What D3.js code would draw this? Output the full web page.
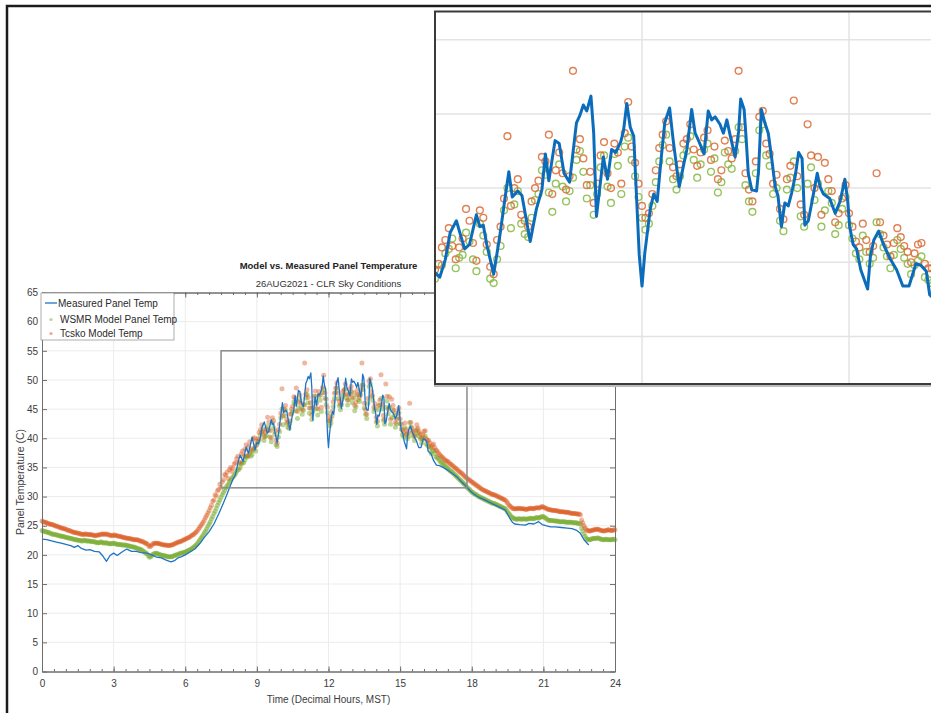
<!DOCTYPE html>
<html>
<head>
<meta charset="utf-8">
<script src="https://cdn.jsdelivr.net/npm/d3@7"></script>
<style>
  html, body { margin: 0; padding: 0; background: #fff; }
  svg { display: block; }
  text { font-family: "Liberation Sans", Arial, Helvetica, sans-serif; }
</style>
</head>
<body>
<svg id="chart" width="931" height="713"></svg>
<script>
// ---- data -------------------------------------------------------------
// Model outputs are sampled every 0.05 h (3 min), starting at 0 h; one row per hour.
const modelStep = 0.05;

const wsmrTemps = [
  24.2, 24.1, 24.0, 24.0, 23.9, 23.9, 23.8, 23.7, 23.6, 23.6, 23.5, 23.5, 23.4, 23.4, 23.3, 23.3, 23.2, 23.2, 23.1, 23.1,
  23.0, 23.0, 22.9, 22.9, 22.8, 22.8, 22.7, 22.7, 22.6, 22.6, 22.5, 22.5, 22.5, 22.4, 22.4, 22.5, 22.5, 22.4, 22.4, 22.4,
  22.4, 22.3, 22.3, 22.3, 22.2, 22.2, 22.1, 22.1, 22.1, 22.2, 22.2, 22.1, 22.0, 22.1, 22.1, 22.0, 21.9, 21.9, 21.9, 22.0,
  22.0, 21.9, 21.9, 21.8, 21.8, 21.8, 21.8, 21.7, 21.7, 21.7, 21.7, 21.6, 21.6, 21.5, 21.5, 21.4, 21.4, 21.3, 21.3, 21.2,
  21.1, 21.0, 21.0, 20.9, 20.8, 20.6, 20.5, 20.3, 20.2, 19.9, 19.6, 19.7, 19.9, 20.1, 20.2, 20.3, 20.3, 20.2, 20.1, 20.0,
  20.0, 19.9, 19.9, 19.8, 19.8, 19.7, 19.7, 19.7, 19.7, 19.7, 19.8, 19.9, 20.0, 20.0, 20.1, 20.2, 20.3, 20.3, 20.4, 20.4,
  20.5, 20.6, 20.7, 20.8, 20.9, 21.0, 21.2, 21.3, 21.5, 21.7, 21.9, 22.2, 22.5, 22.8, 23.1, 23.4, 23.8, 24.1, 24.5, 24.9,
  25.3, 25.7, 26.2, 26.6, 27.1, 27.5, 28.0, 28.5, 29.0, 29.4, 29.9, 30.3, 30.7, 31.1, 31.5, 31.8, 32.1, 32.5, 32.8, 33.1,
  33.4, 33.6, 33.9, 34.3, 34.6, 34.7, 35.0, 35.6, 35.9, 35.8, 36.3, 36.9, 36.8, 37.0, 37.5, 36.9, 37.2, 38.0, 38.3, 37.8,
  38.9, 39.4, 39.8, 40.6, 40.9, 41.6, 39.6, 40.3, 40.5, 42.0, 41.4, 40.2, 39.4, 42.6, 41.8, 40.7, 38.9, 38.6, 40.2, 41.1,
  43.5, 45.0, 42.3, 43.9, 44.8, 42.6, 41.9, 41.7, 43.0, 44.2, 44.6, 46.2, 45.9, 44.7, 43.4, 45.3, 46.6, 45.1, 44.1, 44.8,
  45.7, 46.9, 47.5, 46.1, 44.3, 45.2, 43.2, 44.6, 46.4, 47.2, 45.1, 44.0, 47.3, 46.5, 44.6, 47.8, 48.4, 46.9, 45.8, 44.4,
  43.0, 42.2, 42.6, 43.8, 45.4, 46.8, 47.9, 48.6, 46.8, 45.6, 44.9, 45.8, 47.2, 47.5, 48.5, 46.9, 45.7, 46.6, 47.6, 48.0,
  46.1, 47.0, 44.7, 45.4, 47.4, 46.6, 46.3, 47.5, 49.1, 48.3, 45.2, 44.1, 43.4, 46.0, 48.9, 49.3, 47.2, 46.5, 44.6, 45.0,
  42.8, 42.1, 44.9, 45.7, 46.8, 45.0, 43.1, 42.4, 45.3, 46.4, 44.2, 45.3, 42.4, 43.5, 44.8, 44.0, 41.9, 42.5, 43.6, 44.4,
  42.5, 41.6, 40.6, 40.2, 41.8, 40.7, 39.9, 40.3, 42.7, 41.9, 41.0, 40.4, 39.6, 40.5, 41.5, 40.9, 40.3, 39.9, 39.2, 39.8,
  40.1, 40.4, 39.0, 38.8, 38.6, 38.3, 37.4, 37.8, 37.9, 37.3, 36.8, 36.7, 36.5, 36.2, 35.9, 35.8, 35.5, 35.4, 35.2, 35.0,
  34.8, 34.6, 34.4, 34.3, 34.1, 33.9, 33.7, 33.5, 33.3, 33.1, 32.9, 32.7, 32.5, 32.3, 32.1, 31.9, 31.6, 31.4, 31.2, 31.0,
  30.8, 30.7, 30.5, 30.4, 30.3, 30.1, 30.0, 29.9, 29.8, 29.7, 29.6, 29.5, 29.4, 29.3, 29.2, 29.1, 29.0, 28.9, 28.8, 28.8,
  28.7, 28.6, 28.5, 28.4, 28.3, 28.2, 28.1, 28.0, 27.9, 27.7, 27.4, 27.1, 26.9, 26.6, 26.4, 26.3, 26.2, 26.1, 26.1, 26.2,
  26.2, 26.1, 26.1, 26.2, 26.2, 26.1, 26.1, 26.2, 26.2, 26.3, 26.3, 26.2, 26.2, 26.3, 26.4, 26.4, 26.3, 26.4, 26.5, 26.6,
  26.6, 26.4, 26.3, 26.1, 26.0, 25.9, 25.9, 25.9, 25.9, 25.8, 25.8, 25.8, 25.8, 25.7, 25.7, 25.7, 25.7, 25.7, 25.7, 25.6,
  25.6, 25.6, 25.6, 25.6, 25.6, 25.5, 25.5, 25.5, 25.5, 25.4, 25.4, 25.3, 24.6, 24.1, 23.6, 23.2, 22.8, 22.7, 22.6, 22.6,
  22.7, 22.8, 22.8, 22.8, 22.8, 22.9, 22.9, 22.8, 22.7, 22.7, 22.6, 22.6, 22.7, 22.7, 22.6, 22.6, 22.6, 22.6, 22.7, 22.7,
  22.6
];

const tcskoTemps = [
  25.8, 25.7, 25.6, 25.6, 25.5, 25.4, 25.3, 25.3, 25.2, 25.2, 25.1, 25.0, 24.9, 24.9, 24.8, 24.7, 24.6, 24.6, 24.5, 24.5,
  24.4, 24.3, 24.2, 24.2, 24.1, 24.0, 23.9, 23.9, 23.8, 23.8, 23.7, 23.7, 23.6, 23.6, 23.5, 23.5, 23.6, 23.6, 23.5, 23.5,
  23.5, 23.5, 23.4, 23.4, 23.3, 23.3, 23.4, 23.4, 23.4, 23.5, 23.6, 23.6, 23.5, 23.6, 23.6, 23.5, 23.4, 23.4, 23.3, 23.3,
  23.4, 23.4, 23.3, 23.3, 23.2, 23.2, 23.1, 23.1, 23.0, 23.0, 22.9, 22.9, 22.8, 22.8, 22.8, 22.7, 22.7, 22.6, 22.6, 22.6,
  22.6, 22.5, 22.4, 22.4, 22.3, 22.2, 22.1, 22.0, 21.9, 21.7, 21.4, 21.5, 21.7, 21.9, 22.0, 22.0, 22.0, 22.0, 21.9, 21.9,
  21.8, 21.8, 21.7, 21.7, 21.7, 21.6, 21.6, 21.6, 21.7, 21.7, 21.8, 21.9, 22.0, 22.1, 22.2, 22.2, 22.3, 22.4, 22.5, 22.6,
  22.7, 22.8, 22.9, 23.0, 23.1, 23.3, 23.4, 23.5, 23.7, 23.9, 24.1, 24.4, 24.7, 25.0, 25.3, 25.6, 26.0, 26.4, 26.8, 27.2,
  27.6, 28.1, 28.5, 29.2, 29.4, 30.3, 30.1, 31.0, 31.2, 32.1, 31.6, 32.5, 32.9, 33.8, 33.6, 34.2, 33.1, 34.6, 35.0, 34.3,
  34.9, 35.6, 35.8, 36.5, 36.9, 35.9, 35.7, 37.3, 37.8, 36.9, 38.1, 38.9, 37.0, 38.6, 39.4, 37.8, 38.2, 39.9, 40.1, 38.7,
  39.5, 39.9, 41.0, 41.5, 42.3, 41.1, 40.2, 41.0, 41.6, 43.6, 42.8, 41.3, 40.1, 43.5, 43.0, 41.2, 39.7, 39.2, 41.5, 42.4,
  44.3, 48.5, 43.8, 45.0, 45.6, 43.2, 42.8, 42.4, 44.1, 45.0, 45.5, 47.1, 46.8, 48.6, 44.6, 46.2, 47.4, 46.0, 44.9, 45.8,
  52.9, 47.6, 48.3, 47.0, 45.2, 46.1, 44.0, 45.3, 47.2, 48.1, 46.0, 45.0, 48.0, 47.4, 45.3, 48.7, 50.8, 47.8, 46.7, 45.3,
  43.8, 43.0, 43.3, 44.6, 46.2, 47.7, 48.6, 49.5, 47.7, 46.4, 45.8, 46.6, 48.0, 48.3, 49.3, 47.6, 46.5, 47.4, 48.4, 48.9,
  46.9, 47.8, 45.6, 46.2, 48.2, 47.5, 47.0, 48.3, 52.9, 49.1, 46.0, 44.9, 44.1, 46.8, 49.8, 50.2, 48.0, 47.3, 45.3, 45.9,
  43.6, 42.9, 45.6, 46.5, 50.9, 45.8, 43.9, 43.2, 49.3, 47.2, 45.0, 47.1, 43.2, 46.7, 45.6, 44.8, 42.7, 43.3, 44.3, 45.2,
  43.3, 42.4, 41.4, 41.0, 42.6, 41.5, 40.7, 41.1, 46.0, 42.7, 41.8, 41.2, 40.4, 41.3, 42.3, 41.7, 41.1, 40.7, 40.0, 40.6,
  41.2, 41.3, 39.9, 39.6, 39.6, 39.2, 38.5, 38.8, 39.0, 38.4, 38.0, 37.8, 37.5, 37.2, 37.0, 36.8, 36.6, 36.4, 36.2, 36.1,
  36.0, 35.8, 35.6, 35.5, 35.3, 35.1, 34.9, 34.8, 34.6, 34.4, 34.2, 34.1, 33.9, 33.7, 33.5, 33.3, 33.1, 33.0, 32.8, 32.7,
  32.5, 32.4, 32.2, 32.1, 31.9, 31.8, 31.6, 31.5, 31.3, 31.2, 31.1, 31.0, 30.9, 30.8, 30.7, 30.6, 30.5, 30.4, 30.3, 30.3,
  30.2, 30.1, 30.0, 29.9, 29.8, 29.7, 29.6, 29.5, 29.4, 29.2, 28.9, 28.6, 28.4, 28.2, 28.0, 27.9, 27.9, 27.9, 27.9, 28.0,
  28.0, 27.9, 27.9, 27.9, 27.9, 27.8, 27.8, 27.9, 27.9, 28.0, 28.0, 27.9, 27.9, 28.0, 28.1, 28.1, 28.0, 28.1, 28.2, 28.3,
  28.2, 28.1, 28.0, 27.9, 27.8, 27.8, 27.7, 27.7, 27.6, 27.6, 27.6, 27.6, 27.5, 27.5, 27.4, 27.4, 27.4, 27.4, 27.3, 27.3,
  27.3, 27.3, 27.2, 27.2, 27.1, 27.1, 27.1, 27.1, 27.0, 27.0, 27.0, 26.9, 26.0, 25.5, 25.0, 24.6, 24.3, 24.2, 24.1, 24.1,
  24.2, 24.2, 24.3, 24.3, 24.4, 24.4, 24.4, 24.3, 24.2, 24.2, 24.1, 24.1, 24.2, 24.2, 24.3, 24.3, 24.2, 24.2, 24.2, 24.3,
  24.3
];

// Measured panel temperature (thermocouple log), hour / deg C pairs.
const measuredHours = [
  0.0, 0.2, 0.4, 0.6, 0.8, 1.0, 1.2, 1.35, 1.5, 1.65, 1.85, 2.0, 2.2, 2.4, 2.55, 2.7, 2.85,
  3.0, 3.15, 3.35, 3.55, 3.75, 3.95, 4.15, 4.4, 4.6, 4.8, 5.0, 5.2, 5.4, 5.55, 5.7, 5.85,
  6.0, 6.2, 6.4, 6.6, 6.8, 7.0, 7.2, 7.4, 7.6, 7.75, 7.9, 8.0, 8.1, 8.23, 8.3, 8.42, 8.55,
  8.65, 8.8, 8.92, 9.0, 9.07, 9.15, 9.22, 9.31, 9.36, 9.43, 9.5, 9.6, 9.65, 9.7, 9.75,
  9.85, 9.94, 10.02, 10.07, 10.12, 10.2, 10.26, 10.38, 10.47, 10.55, 10.6, 10.65, 10.74,
  10.8, 10.87, 10.95, 11.05, 11.1, 11.15, 11.2, 11.26, 11.3, 11.34, 11.44, 11.5, 11.56,
  11.62, 11.69, 11.73, 11.78, 11.83, 11.88, 11.92, 11.96, 12.0, 12.04, 12.12, 12.17,
  12.22, 12.28, 12.33, 12.4, 12.45, 12.5, 12.54, 12.6, 12.65, 12.72, 12.77, 12.82, 12.9,
  12.96, 13.01, 13.06, 13.13, 13.18, 13.23, 13.28, 13.35, 13.4, 13.43, 13.48, 13.51,
  13.54, 13.59, 13.66, 13.69, 13.73, 13.78, 13.83, 13.88, 13.93, 13.97, 14.02, 14.07,
  14.12, 14.17, 14.22, 14.27, 14.32, 14.36, 14.41, 14.46, 14.54, 14.58, 14.63, 14.72,
  14.8, 14.87, 14.94, 14.98, 15.01, 15.06, 15.11, 15.17, 15.27, 15.31, 15.36, 15.43,
  15.5, 15.6, 15.69, 15.78, 15.87, 15.97, 16.04, 16.12, 16.17, 16.3, 16.4, 16.52, 16.65,
  16.8, 17.0, 17.2, 17.4, 17.6, 17.8, 18.0, 18.2, 18.4, 18.6, 18.8, 19.0, 19.2, 19.4,
  19.5, 19.6, 19.7, 19.8, 20.0, 20.25, 20.4, 20.6, 20.8, 20.95, 21.1, 21.3, 21.5, 21.75,
  22.0, 22.2, 22.4, 22.55, 22.7, 22.9
];
const measuredTemps = [
  22.7, 22.6, 22.4, 22.2, 22.0, 21.8, 21.6, 21.3, 21.6, 21.1, 20.8, 20.9, 20.6, 20.5, 19.8, 18.9, 19.9,
  20.3, 19.9, 20.5, 21.0, 20.6, 20.6, 20.4, 20.3, 20.0, 19.6, 19.5, 19.1, 18.8, 19.0, 19.5, 19.7,
  20.0, 20.5, 21.0, 21.9, 23.0, 24.0, 25.3, 27.0, 28.9, 30.4, 32.0, 33.0, 33.7, 36.2, 37.1, 36.0, 38.5,
  37.4, 40.2, 38.0, 39.3, 39.0, 40.2, 42.0, 42.8, 42.0, 40.9, 41.2, 43.2, 42.4, 42.5, 41.2,
  39.2, 41.8, 44.5, 46.1, 44.4, 44.8, 44.5, 41.4, 43.6, 44.9, 47.3, 45.5, 48.2,
  48.0, 46.0, 45.4, 49.4, 49.9, 50.6, 50.2, 51.2, 48.7, 43.1, 47.1, 45.6, 47.6,
  47.4, 48.1, 48.8, 50.7, 49.1, 48.5, 44.5, 40.5, 38.4, 40.6, 43.6, 44.6,
  44.1, 47.1, 49.4, 50.4, 48.3, 46.5, 45.1, 46.5, 47.6, 50.3, 48.7, 48.2, 47.3,
  50.2, 49.6, 49.8, 49.3, 48.7, 49.6, 48.5, 47.1, 48.8, 51.0, 50.3, 48.3,
  46.0, 44.9, 44.8, 46.2, 50.3, 49.4, 48.7, 47.0, 45.1, 44.5, 42.4, 44.0,
  43.8, 44.7, 45.8, 47.4, 47.0, 42.5, 42.8, 44.0, 46.0, 45.1, 44.6, 44.3,
  43.3, 44.1, 45.6, 44.2, 42.4, 41.2, 40.9, 39.5, 38.2, 40.4, 41.5, 42.1,
  41.2, 40.2, 39.5, 38.4, 38.4, 39.9, 39.8, 39.4, 37.8, 37.3, 36.2, 35.4, 35.3,
  35.0, 34.5, 33.9, 33.3, 32.4, 31.6, 30.7, 30.1, 29.7, 29.3, 28.9, 28.5, 28.1, 27.7,
  27.0, 26.2, 25.6, 25.3, 25.2, 25.1, 25.4, 25.3, 25.7, 25.2, 25.0, 24.8, 24.8, 24.7,
  24.6, 24.5, 24.2, 23.7, 22.6, 21.7
];

const xTicks = [0, 3, 6, 9, 12, 15, 18, 21, 24];
const xMinorTicks = d3.range(0, 24.01, 0.5);
const yTicks = [0, 5, 10, 15, 20, 25, 30, 35, 40, 45, 50, 55, 60, 65];
const zoomHours = [7.5, 17.8];
const zoomTemps = [31.5, 55];
const insetHourTicks = [9, 12, 15, 18];
const insetTempTicks = [35, 40, 45, 50, 55];

const titleText = "Model vs. Measured Panel Temperature";
const subtitleText = "26AUG2021 - CLR Sky Conditions";
const xLabel = "Time (Decimal Hours, MST)";
const yLabel = "Panel Temperature (C)";
const seriesNames = ["Measured Panel Temp", "WSMR Model Panel Temp", "Tcsko Model Temp"];

// ---- styles ------------------------------------------------------------
const C = {
  measured: "#1f74c4",
  measuredInset: "#0b6cbc",
  wsmr: "#77ac30",
  tcsko: "#d95319",
  grid: "#ececec",
  axis: "#6e6e6e",
  text: "#3c3c3c"
};

const svg = d3.select("#chart");

const wsmr = wsmrTemps.map((t, i) => ({ h: i * modelStep, t }));
const tcsko = tcskoTemps.map((t, i) => ({ h: i * modelStep, t }));
const measured = measuredHours.map((h, i) => ({ h, t: measuredTemps[i] }));

// ---- main axes -------------------------------------------------------------
const P = { left: 42, right: 615, top: 292.5, bottom: 671.5 };
const x = d3.scaleLinear().domain([0, 24]).range([P.left, P.right]);
const y = d3.scaleLinear().domain([0, 65]).range([P.bottom, P.top]);

const main = svg.append("g");

main.append("rect")
  .attr("x", P.left).attr("y", P.top)
  .attr("width", P.right - P.left).attr("height", P.bottom - P.top)
  .attr("fill", "#fff");

// grid
main.append("g").selectAll("line").data(xTicks.slice(1, -1)).join("line")
  .attr("x1", d => x(d)).attr("x2", d => x(d))
  .attr("y1", P.top).attr("y2", P.bottom)
  .attr("stroke", C.grid).attr("stroke-width", 1);
main.append("g").selectAll("line").data(yTicks.slice(1, -1)).join("line")
  .attr("x1", P.left).attr("x2", P.right)
  .attr("y1", d => y(d)).attr("y2", d => y(d))
  .attr("stroke", C.grid).attr("stroke-width", 1);

// model markers
const mainDots = main.append("g");
mainDots.append("g").selectAll("circle").data(wsmr).join("circle")
  .attr("cx", d => x(d.h)).attr("cy", d => y(d.t)).attr("r", 2.5)
  .attr("fill", C.wsmr).attr("fill-opacity", 0.5);
mainDots.append("g").selectAll("circle").data(tcsko).join("circle")
  .attr("cx", d => x(d.h)).attr("cy", d => y(d.t)).attr("r", 2.5)
  .attr("fill", C.tcsko).attr("fill-opacity", 0.42);

// measured line
const lineMain = d3.line().x(d => x(d.h)).y(d => y(d.t));
main.append("path").datum(measured)
  .attr("d", lineMain)
  .attr("fill", "none").attr("stroke", C.measured)
  .attr("stroke-width", 1.3).attr("stroke-linejoin", "round");

// zoom window outline
main.append("rect")
  .attr("x", x(zoomHours[0])).attr("y", y(zoomTemps[1]))
  .attr("width", x(zoomHours[1]) - x(zoomHours[0]))
  .attr("height", y(zoomTemps[0]) - y(zoomTemps[1]))
  .attr("fill", "none").attr("stroke", "#8a8a8a").attr("stroke-width", 1.5);

// axes (box with inward ticks)
function styleAxis(g) {
  g.select(".domain").attr("stroke", C.axis).attr("stroke-width", 1);
  g.selectAll(".tick line").attr("stroke", C.axis).attr("stroke-width", 1);
  g.selectAll(".tick text").attr("fill", C.text).attr("font-size", 10)
    .attr("font-family", "'Liberation Sans', Arial, sans-serif");
}
main.append("g").attr("transform", `translate(0,${P.bottom})`)
  .call(d3.axisBottom(x).tickValues(xMinorTicks).tickSize(-2.5).tickFormat(""))
  .call(styleAxis);
main.append("g").attr("transform", `translate(0,${P.top})`)
  .call(d3.axisTop(x).tickValues(xMinorTicks).tickSize(-2.5).tickFormat(""))
  .call(styleAxis);
main.append("g").attr("transform", `translate(0,${P.bottom})`)
  .call(d3.axisBottom(x).tickValues(xTicks).tickSizeInner(-5).tickSizeOuter(0).tickPadding(8))
  .call(styleAxis);
main.append("g").attr("transform", `translate(0,${P.top})`)
  .call(d3.axisTop(x).tickValues(xTicks).tickSizeInner(-5).tickSizeOuter(0).tickFormat(""))
  .call(styleAxis);
main.append("g").attr("transform", `translate(${P.left},0)`)
  .call(d3.axisLeft(y).tickValues(yTicks).tickSizeInner(-5).tickSizeOuter(0).tickPadding(4))
  .call(styleAxis);
main.append("g").attr("transform", `translate(${P.right},0)`)
  .call(d3.axisRight(y).tickValues(yTicks).tickSizeInner(-5).tickSizeOuter(0).tickFormat(""))
  .call(styleAxis);

// titles and labels
const cx = (P.left + P.right) / 2;
main.append("text").attr("x", cx).attr("y", 268.5).attr("text-anchor", "middle")
  .attr("font-size", 9.5).attr("font-weight", "bold").attr("fill", "#222").text(titleText);
main.append("text").attr("x", cx).attr("y", 286.5).attr("text-anchor", "middle")
  .attr("font-size", 9.5).attr("fill", "#333").text(subtitleText);
main.append("text").attr("x", cx).attr("y", 703).attr("text-anchor", "middle")
  .attr("font-size", 10).attr("fill", C.text).text(xLabel);
main.append("text").attr("transform", `translate(24,${(P.top + P.bottom) / 2}) rotate(-90)`)
  .attr("text-anchor", "middle").attr("font-size", 10.5).attr("fill", C.text).text(yLabel);

// legend
const lg = main.append("g").attr("transform", "translate(41,293)");
lg.append("rect").attr("width", 133).attr("height", 47)
  .attr("fill", "#fff").attr("stroke", "#9a9a9a").attr("stroke-width", 0.8);
lg.append("line").attr("x1", 4).attr("x2", 16).attr("y1", 10).attr("y2", 10)
  .attr("stroke", C.measured).attr("stroke-width", 1.3);
lg.append("circle").attr("cx", 10).attr("cy", 26.5).attr("r", 1.6)
  .attr("fill", C.wsmr).attr("fill-opacity", 0.5);
lg.append("circle").attr("cx", 10).attr("cy", 40.5).attr("r", 1.6)
  .attr("fill", C.tcsko).attr("fill-opacity", 0.5);
lg.selectAll("text").data(seriesNames).join("text")
  .attr("x", (d, i) => i === 0 ? 17 : 19)
  .attr("y", (d, i) => [13.5, 30, 44][i])
  .attr("font-size", 10).attr("fill", "#2a2a2a").text(d => d);

// ---- magnified inset -------------------------------------------------------
const I = { left: 435, top: 11.5, right: 1056, bottom: 384 };
const xi = d3.scaleLinear().domain([9, 18]).range([I.left, I.right]);
const yi = d3.scaleLinear().domain([31.8, 56.9]).range([I.bottom, I.top]);

const inset = svg.append("g");
svg.append("defs").append("clipPath").attr("id", "insetClip")
  .append("rect").attr("x", I.left).attr("y", I.top)
  .attr("width", I.right - I.left).attr("height", I.bottom - I.top);

inset.append("rect").attr("x", I.left - 1).attr("y", I.top + 1)
  .attr("width", I.right - I.left).attr("height", I.bottom - I.top + 2)
  .attr("fill", "#bdbdbd");
inset.append("rect").attr("x", I.left).attr("y", I.top)
  .attr("width", I.right - I.left).attr("height", I.bottom - I.top)
  .attr("fill", "#fff");

const ic = inset.append("g").attr("clip-path", "url(#insetClip)");
ic.append("g").selectAll("line").data(insetHourTicks).join("line")
  .attr("x1", d => xi(d)).attr("x2", d => xi(d))
  .attr("y1", I.top).attr("y2", I.bottom)
  .attr("stroke", "#e3e3e3").attr("stroke-width", 1.5);
ic.append("g").selectAll("line").data(insetTempTicks).join("line")
  .attr("x1", I.left).attr("x2", I.right)
  .attr("y1", d => yi(d)).attr("y2", d => yi(d))
  .attr("stroke", "#e3e3e3").attr("stroke-width", 1.5);

ic.append("g").selectAll("circle").data(wsmr.filter(d => d.h >= 8.8 && d.h <= 18)).join("circle")
  .attr("cx", d => xi(d.h)).attr("cy", d => yi(d.t)).attr("r", 3.4)
  .attr("fill", "none").attr("stroke", "#8cbd4c").attr("stroke-width", 1.4)
  .attr("stroke-opacity", 0.9);
ic.append("g").selectAll("circle").data(tcsko.filter(d => d.h >= 8.8 && d.h <= 18)).join("circle")
  .attr("cx", d => xi(d.h)).attr("cy", d => yi(d.t)).attr("r", 3.4)
  .attr("fill", "none").attr("stroke", "#dc6a34").attr("stroke-width", 1.4)
  .attr("stroke-opacity", 0.85);

const lineInset = d3.line().x(d => xi(d.h)).y(d => yi(d.t));
ic.append("path").datum(measured)
  .attr("d", lineInset)
  .attr("fill", "none").attr("stroke", C.measuredInset)
  .attr("stroke-width", 3).attr("stroke-linejoin", "round");

inset.append("rect").attr("x", I.left).attr("y", I.top)
  .attr("width", I.right - I.left).attr("height", I.bottom - I.top)
  .attr("fill", "none").attr("stroke", "#3a3a3a").attr("stroke-width", 2);

// ---- page frame -------------------------------------------------------------
svg.append("path")
  .attr("d", "M7,713 V6 H931")
  .attr("fill", "none").attr("stroke", "#1c1c1c").attr("stroke-width", 2.5);
</script>
</body>
</html>
